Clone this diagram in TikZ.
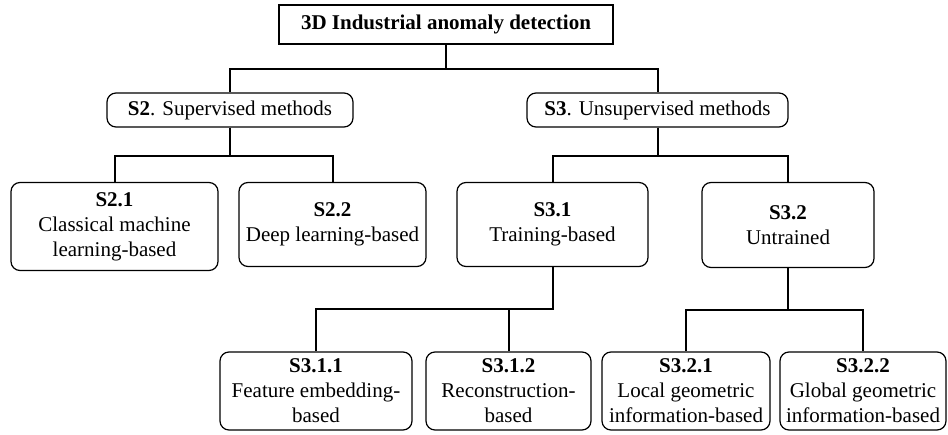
\documentclass[tikz,border=0pt]{standalone}
\usepackage{fontspec}
\setmainfont{Liberation Serif}
\tikzset{
  box/.style={draw=black, line width=1.2pt, rounded corners=9pt, align=center, inner sep=0pt,
    font=\fontsize{21}{25}\selectfont},
  topbox/.style={box, rounded corners=0pt},
  conn/.style={draw=black, line width=2pt},
}
\newcommand\treelink[3]{\draw[conn] (#1.south) -- ++(0,#3) -| (#2.north);}
\begin{document}
\begin{tikzpicture}[x=1pt,y=-1pt]
\useasboundingbox (0,0) rectangle (948,435);
\node[topbox, minimum width=334pt, minimum height=39pt] (top) at (446,24.5) {\textbf{3D Industrial anomaly detection}};
\node[box, minimum width=246pt, minimum height=34pt] (s2) at (230,110) {\textbf{S2}. Supervised methods};
\node[box, minimum width=261pt, minimum height=34pt] (s3) at (657.5,110) {\textbf{S3}. Unsupervised methods};
\node[box, minimum width=207pt, minimum height=88pt] (s21) at (114.5,226.5) {\textbf{S2.1}\\Classical machine\\learning-based};
\node[box, minimum width=187pt, minimum height=84pt] (s22) at (332.5,224.5) {\textbf{S2.2}\\Deep learning-based};
\node[box, minimum width=191pt, minimum height=84pt] (s31) at (552.5,224.5) {\textbf{S3.1}\\Training-based};
\node[box, minimum width=172pt, minimum height=85pt] (s32) at (788,225) {\textbf{S3.2}\\Untrained};
\node[box, minimum width=192pt, minimum height=78pt] (s311) at (316,391) {\textbf{S3.1.1}\\Feature embedding-\\based};
\node[box, minimum width=165pt, minimum height=78pt] (s312) at (508.5,391) {\textbf{S3.1.2}\\Reconstruction-\\based};
\node[box, minimum width=168pt, minimum height=78pt] (s321) at (686,391) {\textbf{S3.2.1}\\Local geometric\\information-based};
\node[box, minimum width=166pt, minimum height=78pt] (s322) at (863,391) {\textbf{S3.2.2}\\Global geometric\\information-based};
\treelink{top}{s2}{24}
\treelink{top}{s3}{24}
\treelink{s2}{s21}{28}
\treelink{s2}{s22}{28}
\treelink{s3}{s31}{28}
\treelink{s3}{s32}{28}
\treelink{s31}{s311}{42}
\treelink{s31}{s312}{42}
\treelink{s32}{s321}{42}
\treelink{s32}{s322}{42}
\end{tikzpicture}
\end{document}
